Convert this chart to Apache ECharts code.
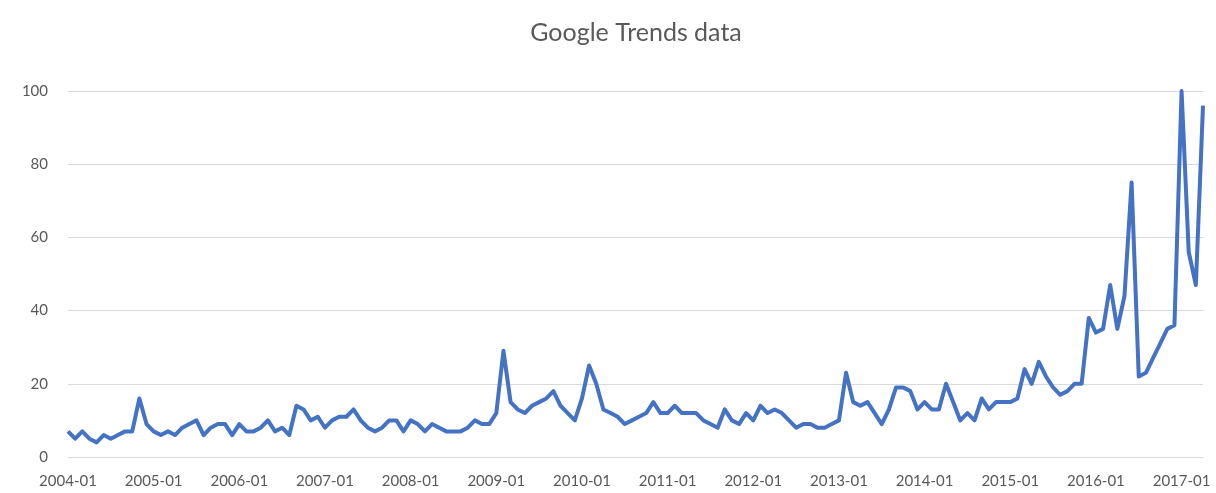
<!DOCTYPE html>
<html>
<head>
<meta charset="utf-8">
<script src="https://cdn.jsdelivr.net/npm/echarts@6/dist/echarts.min.js"></script>
<style>
html,body{margin:0;padding:0;background:#fff;}
#chart{width:1216px;height:493px;}
</style>
</head>
<body>
<div id="chart"></div>
<script>
var startYear = 2004;
var endYear = 2017;
var endMonth = 4;
var categories = [];
for (var y = startYear; y <= endYear; y++) {
  for (var m = 1; m <= 12; m++) {
    if (y === endYear && m > endMonth) break;
    categories.push(y + '-' + (m < 10 ? '0' + m : m));
  }
}
var values2004 = [7,5,7,5,4,6,5,6,7,7,16,9];
var values2005 = [7,6,7,6,8,9,10,6,8,9,9,6];
var values2006 = [9,7,7,8,10,7,8,6,14,13,10,11];
var values2007 = [8,10,11,11,13,10,8,7,8,10,10,7];
var values2008 = [10,9,7,9,8,7,7,7,8,10,9,9];
var values2009 = [12,29,15,13,12,14,15,16,18,14,12,10];
var values2010 = [16,25,20,13,12,11,9,10,11,12,15,12];
var values2011 = [12,14,12,12,12,10,9,8,13,10,9,12];
var values2012 = [10,14,12,13,12,10,8,9,9,8,8,9];
var values2013 = [10,23,15,14,15,12,9,13,19,19,18,13];
var values2014 = [15,13,13,20,15,10,12,10,16,13,15,15];
var values2015 = [15,16,24,20,26,22,19,17,18,20,20,38];
var values2016 = [34,35,47,35,44,75,22,23,27,31,35,36];
var values2017 = [100,56,47,96];
var trendValues = [].concat(values2004, values2005, values2006, values2007, values2008,
  values2009, values2010, values2011, values2012, values2013, values2014,
  values2015, values2016, values2017);

var chart = echarts.init(document.getElementById('chart'));
chart.setOption({
  animation: false,
  title: {
    text: 'Google Trends data',
    left: 631,
    textAlign: 'center',
    top: 15,
    textStyle: { fontFamily: 'Lato', fontSize: 25, fontWeight: 'normal', color: '#595959' }
  },
  grid: { left: 68, right: 13, top: 91, bottom: 36, containLabel: false },
  xAxis: {
    type: 'category',
    data: categories,
    boundaryGap: false,
    axisLine: { lineStyle: { color: '#d9d9d9', width: 1 } },
    axisTick: { show: false },
    axisLabel: { interval: 11, color: '#595959', fontFamily: 'Lato', fontSize: 15, margin: 17 },
    splitLine: { show: false }
  },
  yAxis: {
    type: 'value',
    min: 0,
    max: 100,
    interval: 20,
    axisLine: { show: false },
    axisTick: { show: false },
    axisLabel: { color: '#595959', fontFamily: 'Lato', fontSize: 15, margin: 20 },
    splitLine: { lineStyle: { color: '#d9d9d9', width: 1 } }
  },
  series: [{
    type: 'line',
    data: trendValues,
    showSymbol: false,
    symbol: 'none',
    lineStyle: { color: '#4472C4', width: 4, join: 'round' },
    itemStyle: { color: '#4472C4' }
  }]
});
</script>
</body>
</html>
